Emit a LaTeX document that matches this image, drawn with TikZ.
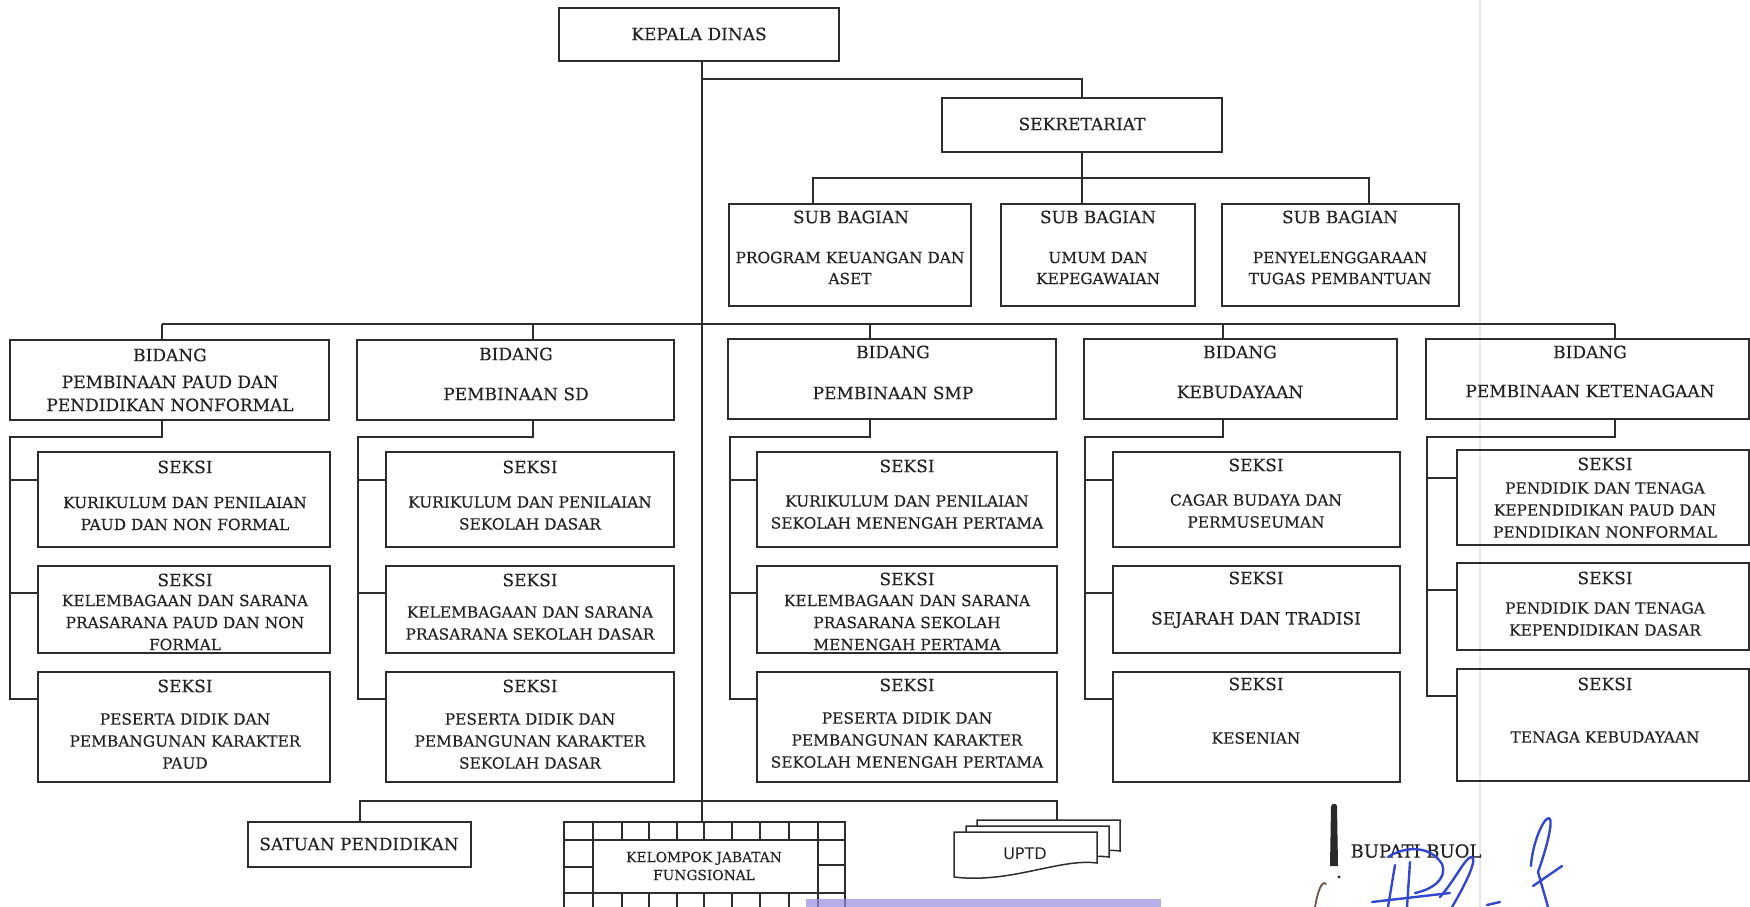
\documentclass[tikz,border=0pt]{standalone}
\usepackage{fontspec}
\setmainfont{DejaVu Serif}[FakeBold=0.3]
\newfontfamily\sansfam{DejaVu Sans}
\usetikzlibrary{fit,calc}

\definecolor{ink}{RGB}{45,45,45}
\definecolor{letter}{RGB}{35,35,35}
\definecolor{pen}{RGB}{52,72,205}
\definecolor{stamp}{RGB}{150,140,225}
\definecolor{brownink}{RGB}{110,80,70}

\tikzset{
  box/.style={draw=ink, line width=1.6pt, inner sep=0pt, outer sep=0pt, rectangle},
  wire/.style={draw=ink, line width=1.4pt},
  ttl/.style={text=letter, font=\fontsize{17}{20}\selectfont, inner sep=0pt},
  dsc/.style={text=letter, font=\fontsize{15.4}{22}\selectfont, align=center, inner sep=0pt},
  subdsc/.style={text=letter, font=\fontsize{15.4}{21}\selectfont, align=center, inner sep=0pt},
  bdsc/.style={text=letter, font=\fontsize{17}{23}\selectfont, align=center, inner sep=0pt},
  sig/.style={draw=pen, line width=2.4pt, line cap=round, line join=round},
  docpage/.style={draw=ink, line width=1.5pt, fill=white},
}

\begin{document}
\begin{tikzpicture}[x=1pt, y=-1pt]
\useasboundingbox (0,0) rectangle (1750,907);
\clip (0,0) rectangle (1750,907);
\fill[white] (0,0) rectangle (1750,907);

% faint fold of the sheet
\draw[gray, opacity=0.18, line width=2pt] (1480,0) -- (1480,907);

% ---------- head and secretariat ----------
\node[box, fit={(559,8) (839,61)}] (kd) {};
\node[ttl] (kdt) at (699,34) {KEPALA DINAS};
\node[box, fit={(942,98) (1222,152)}] (sek) {};
\node[ttl] (sekt) at (1082,124) {SEKRETARIAT};

\node[box, fit={(729,204) (971,306)}] (sb1) {};
\node[box, fit={(1001,204) (1195,306)}] (sb2) {};
\node[box, fit={(1222,204) (1459,306)}] (sb3) {};
\node[ttl] (sb1t) at (851,217) {SUB BAGIAN};
\node[ttl] (sb2t) at (1098,217) {SUB BAGIAN};
\node[ttl] (sb3t) at (1340,217) {SUB BAGIAN};
\node[subdsc] (sb1d) at (850,268) {PROGRAM KEUANGAN DAN\\ASET};
\node[subdsc] (sb2d) at (1098,268) {UMUM DAN\\KEPEGAWAIAN};
\node[subdsc] (sb3d) at (1340,268) {PENYELENGGARAAN\\TUGAS PEMBANTUAN};

% ---------- bidang ----------
\node[box, fit={(10,340) (329,420)}] (b1) {};
\node[box, fit={(357,340) (674,420)}] (b2) {};
\node[box, fit={(728,339) (1056,419)}] (b3) {};
\node[box, fit={(1084,339) (1397,419)}] (b4) {};
\node[box, fit={(1426,339) (1749,419)}] (b5) {};
\node[ttl] (b1t) at (170,355) {BIDANG};
\node[ttl] (b2t) at (516,354) {BIDANG};
\node[ttl] (b3t) at (893,352) {BIDANG};
\node[ttl] (b4t) at (1240,352) {BIDANG};
\node[ttl] (b5t) at (1590,352) {BIDANG};
\node[bdsc] (b1d) at (170,393.5) {PEMBINAAN PAUD DAN\\PENDIDIKAN NONFORMAL};
\node[bdsc] (b2d) at (516,394) {PEMBINAAN SD};
\node[bdsc] (b3d) at (893,393) {PEMBINAAN SMP};
\node[bdsc] (b4d) at (1240,392) {KEBUDAYAAN};
\node[bdsc] (b5d) at (1590,391) {PEMBINAAN KETENAGAAN};

% ---------- seksi, column 1 ----------
\node[box, fit={(38,452) (330,547)}] (s11) {};
\node[box, fit={(38,566) (330,653)}] (s12) {};
\node[box, fit={(38,672) (330,782)}] (s13) {};
\node[ttl] (s11t) at (185,467) {SEKSI};
\node[ttl] (s12t) at (185,580) {SEKSI};
\node[ttl] (s13t) at (185,686) {SEKSI};
\node[dsc] (s11d) at (185,513.5) {KURIKULUM DAN PENILAIAN\\PAUD DAN NON FORMAL};
\node[dsc] (s12d) at (185,622.5) {KELEMBAGAAN DAN SARANA\\PRASARANA PAUD DAN NON\\FORMAL};
\node[dsc] (s13d) at (185,741) {PESERTA DIDIK DAN\\PEMBANGUNAN KARAKTER\\PAUD};

% ---------- seksi, column 2 ----------
\node[box, fit={(386,452) (674,547)}] (s21) {};
\node[box, fit={(386,566) (674,653)}] (s22) {};
\node[box, fit={(386,672) (674,782)}] (s23) {};
\node[ttl] (s21t) at (530,467) {SEKSI};
\node[ttl] (s22t) at (530,580) {SEKSI};
\node[ttl] (s23t) at (530,686) {SEKSI};
\node[dsc] (s21d) at (530,513) {KURIKULUM DAN PENILAIAN\\SEKOLAH DASAR};
\node[dsc] (s22d) at (530,623) {KELEMBAGAAN DAN SARANA\\PRASARANA SEKOLAH DASAR};
\node[dsc] (s23d) at (530,741) {PESERTA DIDIK DAN\\PEMBANGUNAN KARAKTER\\SEKOLAH DASAR};

% ---------- seksi, column 3 ----------
\node[box, fit={(757,452) (1057,547)}] (s31) {};
\node[box, fit={(757,566) (1057,653)}] (s32) {};
\node[box, fit={(757,672) (1057,782)}] (s33) {};
\node[ttl] (s31t) at (907,466) {SEKSI};
\node[ttl] (s32t) at (907,579) {SEKSI};
\node[ttl] (s33t) at (907,685) {SEKSI};
\node[dsc] (s31d) at (907,512) {KURIKULUM DAN PENILAIAN\\SEKOLAH MENENGAH PERTAMA};
\node[dsc] (s32d) at (907,622.5) {KELEMBAGAAN DAN SARANA\\PRASARANA SEKOLAH\\MENENGAH PERTAMA};
\node[dsc] (s33d) at (907,740) {PESERTA DIDIK DAN\\PEMBANGUNAN KARAKTER\\SEKOLAH MENENGAH PERTAMA};

% ---------- seksi, column 4 ----------
\node[box, fit={(1113,452) (1400,547)}] (s41) {};
\node[box, fit={(1113,566) (1400,653)}] (s42) {};
\node[box, fit={(1113,672) (1400,782)}] (s43) {};
\node[ttl] (s41t) at (1256,465) {SEKSI};
\node[ttl] (s42t) at (1256,578) {SEKSI};
\node[ttl] (s43t) at (1256,684) {SEKSI};
\node[dsc] (s41d) at (1256,511) {CAGAR BUDAYA DAN\\PERMUSEUMAN};
\node[bdsc] (s42d) at (1256,620) {SEJARAH DAN TRADISI};
\node[dsc] (s43d) at (1256,738) {KESENIAN};

% ---------- seksi, column 5 ----------
\node[box, fit={(1457,450) (1749,545)}] (s51) {};
\node[box, fit={(1457,563) (1749,650)}] (s52) {};
\node[box, fit={(1457,669) (1749,781)}] (s53) {};
\node[ttl] (s51t) at (1605,464) {SEKSI};
\node[ttl] (s52t) at (1605,578) {SEKSI};
\node[ttl] (s53t) at (1605,684) {SEKSI};
\node[dsc] (s51d) at (1605,510) {PENDIDIK DAN TENAGA\\KEPENDIDIKAN PAUD DAN\\PENDIDIKAN NONFORMAL};
\node[dsc] (s52d) at (1605,619) {PENDIDIK DAN TENAGA\\KEPENDIDIKAN DASAR};
\node[dsc] (s53d) at (1605,737) {TENAGA KEBUDAYAAN};

% ---------- bottom row ----------
\node[box, fit={(248,822) (471,867)}] (sp) {};
\node[ttl] (spt) at (359,844) {SATUAN PENDIDIKAN};

% functional group: framed box with a band of cells
\node[box, fit={(564,822) (845,920)}] (kf) {};
\node[box, fit={(593,840) (818,893)}] (kfi) {};
\node[text=letter, font=\fontsize{13.8}{18}\selectfont, align=center, inner sep=0pt] (kft) at (704,866) {KELOMPOK JABATAN\\FUNGSIONAL};
\draw[wire, line width=1.5pt] (kf.west |- kfi.north) -- (kf.east |- kfi.north)
  (kf.west |- kfi.south) -- (kf.east |- kfi.south)
  (kf.west |- 0,867) -- (kfi.west |- 0,867)
  (kfi.east |- 0,865) -- (kf.east |- 0,865);
\foreach \cx in {593,622,649,677,704,732,760,789,818}{
  \draw[wire, line width=1.5pt] (\cx,822) -- (\cx,840) (\cx,893) -- (\cx,907);
}

% stacked pages of the technical units
\coordinate (uptop) at (1057,820);
\foreach \dx/\dy in {23/-12, 12/-6, 0/0}{
  \begin{scope}[shift={(\dx,\dy)}]
    \path[docpage] (954,832) -- (1097,832) -- (1097,863)
      .. controls (1060,858) and (1010,884) .. (954,877) -- cycle;
  \end{scope}
}
\node[text=letter, font=\sansfam\fontsize{16}{18}\selectfont, inner sep=0pt] (up) at (1025,854) {UPTD};

% ---------- connectors ----------
\coordinate (j1) at (702,79);
\draw[wire] (kd.south -| j1) -- (kf.north -| j1);
\draw[wire] (j1) -| (sek.north);

\coordinate (d1) at (813,178);
\coordinate (d3) at (1369,178);
\draw[wire] (sek.south) -- (sb2.north -| sek.south);
\draw[wire] (sb1.north -| d1) -- (d1) -- (d3) -- (sb3.north -| d3);

\coordinate (p1) at (162,324);
\coordinate (p2) at (533,324);
\coordinate (p3) at (870,324);
\coordinate (p4) at (1223,324);
\coordinate (p5) at (1615,324);
\draw[wire] (p1) -- (p5);
\foreach \k in {1,...,5}{ \draw[wire] (p\k) -- (b\k.north -| p\k); }

% section branches under each field
\foreach \k/\vx in {1/10, 2/358, 3/730, 4/1085, 5/1427}{
  \coordinate (q\k) at (\vx,437);
  \draw[wire] (b\k.south -| p\k) -- (p\k |- q\k) -- (q\k)
     -- ($(s\k3.north west -| q\k)+(0,27)$) -- ($(s\k3.north west)+(0,27)$);
  \draw[wire] ($(s\k1.north west -| q\k)+(0,28)$) -- ($(s\k1.north west)+(0,28)$);
  \draw[wire] ($(s\k2.north west -| q\k)+(0,27)$) -- ($(s\k2.north west)+(0,27)$);
}

\coordinate (e1) at (360,801);
\coordinate (e2) at (1057,801);
\draw[wire] (sp.north -| e1) -- (e1) -- (e2) -- (uptop);

% ---------- signature area ----------
\node[text=letter, font=\fontsize{18}{20}\selectfont, inner sep=0pt] (bp) at (1416,851) {BUPATI BUOL};
\fill[ink!90!black] (1331,806) .. controls (1333,803) and (1336,803) .. (1337,806)
  -- (1338,866) -- (1330,866) -- cycle;
\fill[ink] (1339,877) circle (1.6);
\draw[brownink, line width=1.8pt, line cap=round] (1315,907) .. controls (1318,890) and (1322,880) .. (1326,884);
\draw[sig] (1388,857) .. controls (1405,846) and (1430,845) .. (1442,864)
  .. controls (1448,880) and (1430,890) .. (1415,893);
\draw[sig] (1395,865) -- (1388,907);
\draw[sig] (1410,862) -- (1407,907);
\draw[sig] (1372,902) -- (1450,893);
\draw[sig] (1440,897) .. controls (1455,880) and (1465,858) .. (1471,857)
  .. controls (1478,857) and (1468,880) .. (1452,907);
\draw[sig] (1487,905) -- (1500,902);
\draw[sig] (1531,866) .. controls (1532,845) and (1543,818) .. (1549,818)
  .. controls (1554,820) and (1546,850) .. (1538,872) -- (1548,907);
\draw[sig] (1533,886) -- (1562,866);

% stamp edge along the lower border
\fill[stamp, opacity=0.7] (806,899) rectangle (1161,907);
\end{tikzpicture}
\end{document}
